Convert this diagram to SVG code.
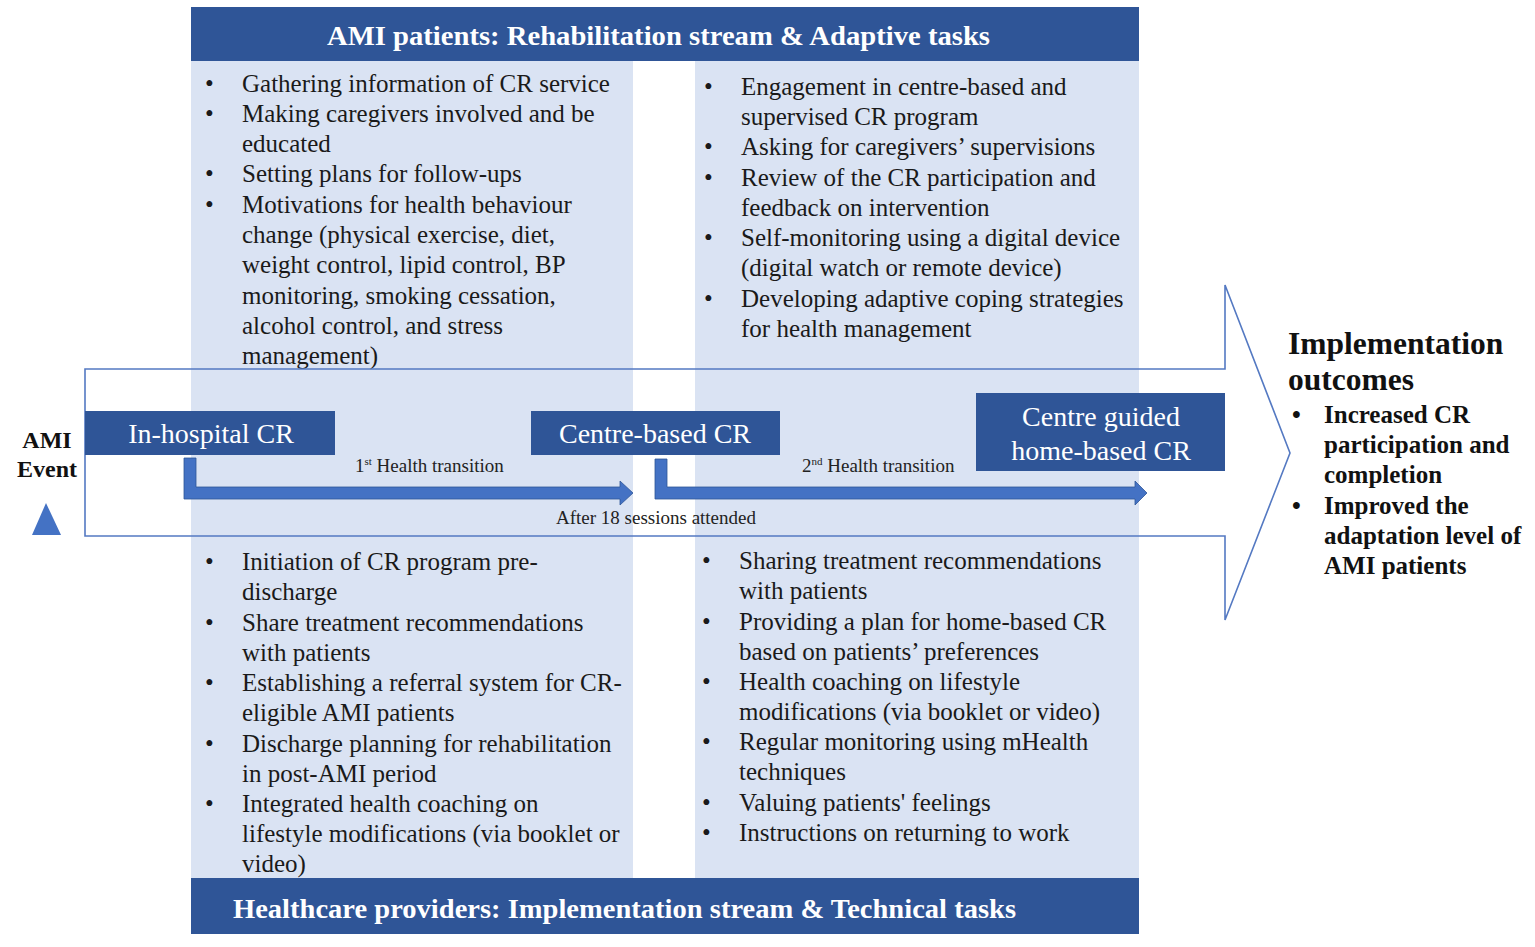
<svg xmlns="http://www.w3.org/2000/svg" width="1535" height="947" viewBox="0 0 1535 947">
<style>
.hdr{fill:#2f5597}
.hdrtxt{font-family:"Liberation Serif","Times New Roman",serif;font-weight:bold;font-size:28px;fill:#ffffff}
.panel{fill:#dae3f3}
.body{font-family:"Liberation Serif","Times New Roman",serif;font-size:25px;fill:#1a1a1a}
.node{fill:#2f5597}
.nodetxt{font-family:"Liberation Serif","Times New Roman",serif;font-size:28px;fill:#ffffff;text-anchor:middle}
.small{font-family:"Liberation Serif","Times New Roman",serif;font-size:19px;fill:#222222}
.bold{font-family:"Liberation Serif","Times New Roman",serif;font-weight:bold;fill:#111111}
.flow{fill:#4472c4;stroke:#2f5597;stroke-width:0.8}
</style>
<rect width="1535" height="947" fill="#ffffff"/>

<g id="panels">
  <rect class="panel" x="191" y="61" width="442" height="817"/>
  <rect class="panel" x="695" y="61" width="444" height="817"/>
</g>

<g id="header-top">
  <rect class="hdr" x="191" y="7" width="948" height="54"/>
  <text class="hdrtxt" x="327" y="45" textLength="663" lengthAdjust="spacingAndGlyphs">AMI patients: Rehabilitation stream  &amp; Adaptive tasks</text>
</g>

<g id="header-bottom">
  <rect class="hdr" x="191" y="878" width="948" height="56"/>
  <text class="hdrtxt" x="233" y="918" textLength="783" lengthAdjust="spacingAndGlyphs">Healthcare providers: Implementation stream  &amp; Technical tasks</text>
</g>

<g id="adaptive-tasks-left" class="body">
  <text x="205" y="92">•</text><text x="242" y="92">Gathering information of CR service</text>
  <text x="205" y="122">•</text><text x="242" y="122">Making caregivers involved and be</text>
  <text x="242" y="152">educated</text>
  <text x="205" y="182">•</text><text x="242" y="182">Setting plans for follow-ups</text>
  <text x="205" y="213">•</text><text x="242" y="213">Motivations for health behaviour</text>
  <text x="242" y="243">change (physical exercise, diet,</text>
  <text x="242" y="273">weight control, lipid control, BP</text>
  <text x="242" y="304">monitoring, smoking cessation,</text>
  <text x="242" y="334">alcohol control, and stress</text>
  <text x="242" y="364">management)</text>
</g>

<g id="adaptive-tasks-right" class="body">
  <text x="704" y="95">•</text><text x="741" y="95">Engagement in centre-based and</text>
  <text x="741" y="125">supervised CR program</text>
  <text x="704" y="155">•</text><text x="741" y="155">Asking for caregivers’ supervisions</text>
  <text x="704" y="186">•</text><text x="741" y="186">Review of the CR participation and</text>
  <text x="741" y="216">feedback on intervention</text>
  <text x="704" y="246">•</text><text x="741" y="246">Self-monitoring using a digital device</text>
  <text x="741" y="276">(digital watch or remote device)</text>
  <text x="704" y="307">•</text><text x="741" y="307">Developing adaptive coping strategies</text>
  <text x="741" y="337">for health management</text>
</g>

<g id="technical-tasks-left" class="body">
  <text x="205" y="570">•</text><text x="242" y="570">Initiation of CR program pre-</text>
  <text x="242" y="600">discharge</text>
  <text x="205" y="631">•</text><text x="242" y="631">Share treatment recommendations</text>
  <text x="242" y="661">with patients</text>
  <text x="205" y="691">•</text><text x="242" y="691">Establishing a referral system for CR-</text>
  <text x="242" y="721">eligible AMI patients</text>
  <text x="205" y="752">•</text><text x="242" y="752">Discharge planning for rehabilitation</text>
  <text x="242" y="782">in post-AMI period</text>
  <text x="205" y="812">•</text><text x="242" y="812">Integrated health coaching on</text>
  <text x="242" y="842">lifestyle modifications (via booklet or</text>
  <text x="242" y="872">video)</text>
</g>

<g id="technical-tasks-right" class="body">
  <text x="702" y="569">•</text><text x="739" y="569">Sharing treatment recommendations</text>
  <text x="739" y="599">with patients</text>
  <text x="702" y="630">•</text><text x="739" y="630">Providing a plan for home-based CR</text>
  <text x="739" y="660">based on patients’ preferences</text>
  <text x="702" y="690">•</text><text x="739" y="690">Health coaching on lifestyle</text>
  <text x="739" y="720">modifications (via booklet or video)</text>
  <text x="702" y="750">•</text><text x="739" y="750">Regular monitoring using mHealth</text>
  <text x="739" y="780">techniques</text>
  <text x="702" y="811">•</text><text x="739" y="811">Valuing patients' feelings</text>
  <text x="702" y="841">•</text><text x="739" y="841">Instructions on returning to work</text>
</g>

<g id="connectors">
  <path d="M85,369 H1225 V285 L1290,453 L1225,620 V536 H85 Z" fill="none" stroke="#5479c2" stroke-width="1.6"/>
  <path class="flow" d="M184,458 H196 V487 H620 V481 L633,493 L620,505 V499 H184 Z"/>
  <path class="flow" d="M655,459 H667 V487 H1135 V481 L1147,493 L1135,505 V499 H655 Z"/>
  <text class="small" x="355" y="472">1<tspan font-size="11" dy="-7">st</tspan><tspan dy="7"> Health transition</tspan></text>
  <text class="small" x="802" y="472">2<tspan font-size="11" dy="-7">nd</tspan><tspan dy="7"> Health transition</tspan></text>
  <text class="small" x="556" y="524">After 18 sessions attended</text>
</g>

<g id="ami-event">
  <text class="bold" x="47" y="448" font-size="24" text-anchor="middle">AMI</text>
  <text class="bold" x="47" y="477" font-size="24" text-anchor="middle">Event</text>
  <polygon points="46,503 32,535 61,535" fill="#4472c4"/>
</g>

<g id="in-hospital-cr">
  <rect class="node" x="85" y="411" width="250" height="44"/>
  <text class="nodetxt" x="211" y="443">In-hospital CR</text>
</g>

<g id="centre-based-cr">
  <rect class="node" x="531" y="411" width="249" height="44"/>
  <text class="nodetxt" x="655" y="443">Centre-based CR</text>
</g>

<g id="home-based-cr">
  <rect class="node" x="976" y="393" width="249" height="78"/>
  <text class="nodetxt" x="1101" y="426">Centre guided</text>
  <text class="nodetxt" x="1101" y="460">home-based CR</text>
</g>

<g id="outcomes" class="bold">
  <text x="1288" y="354" font-size="31.5">Implementation</text>
  <text x="1288" y="390" font-size="31.5">outcomes</text>
  <text x="1292" y="423" font-size="25">•</text><text x="1324" y="423" font-size="25">Increased CR</text>
  <text x="1324" y="453" font-size="25">participation and</text>
  <text x="1324" y="483" font-size="25">completion</text>
  <text x="1292" y="514" font-size="25">•</text><text x="1324" y="514" font-size="25">Improved the</text>
  <text x="1324" y="544" font-size="25">adaptation level of</text>
  <text x="1324" y="574" font-size="25">AMI patients</text>
</g>
</svg>
